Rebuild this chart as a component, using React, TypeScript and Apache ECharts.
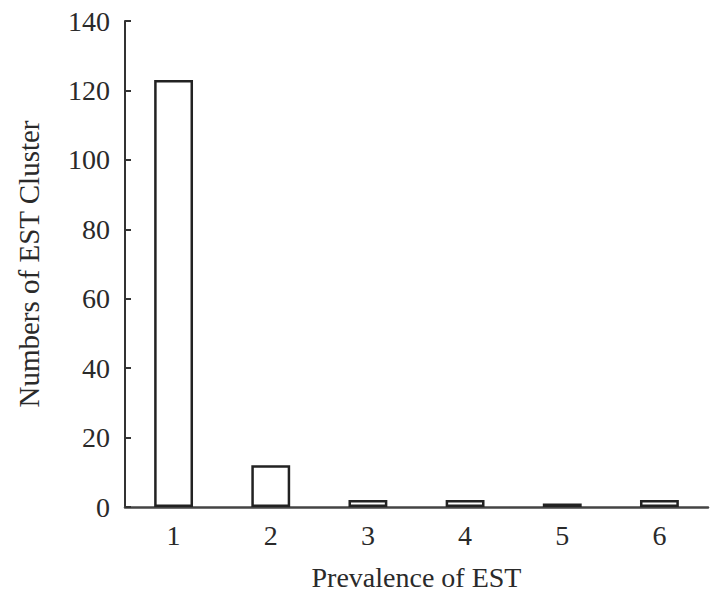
import React, { useEffect, useRef } from "react";
import * as echarts from "echarts";

const categories = ["1", "2", "3", "4", "5", "6"];
const clusterCounts = [123, 12, 2, 2, 1, 2];
const yTicks = { min: 0, max: 140, interval: 20 };

export default function App() {
  const ref = useRef<HTMLDivElement>(null);
  useEffect(() => {
    if (!ref.current) return;
    const chart = echarts.init(ref.current, undefined, { renderer: "svg" });
    const font = "'Times New Roman', 'Liberation Serif', Times, serif";
    const textColor = "#2a2a2a";
    chart.setOption({
      animation: false,
      backgroundColor: "#fff",
      grid: { left: 125, right: 11, top: 21, bottom: 84, containLabel: false },
      xAxis: {
        type: "category",
        data: categories,
        boundaryGap: true,
        name: "Prevalence of EST",
        nameLocation: "middle",
        nameGap: 56,
        nameTextStyle: { fontFamily: font, fontSize: 28, color: textColor },
        axisLine: { lineStyle: { color: "#444", width: 2.5 } },
        axisTick: { inside: true, length: 6, alignWithLabel: false, lineStyle: { color: "#444", width: 2 } },
        axisLabel: { fontFamily: font, fontSize: 28, color: textColor, margin: 14 },
        splitLine: { show: false },
      },
      yAxis: {
        type: "value",
        min: yTicks.min,
        max: yTicks.max,
        interval: yTicks.interval,
        name: "Numbers of EST Cluster",
        nameLocation: "middle",
        nameGap: 82,
        nameRotate: 90,
        nameTextStyle: { fontFamily: font, fontSize: 29, color: textColor },
        axisLine: { show: true, lineStyle: { color: "#333", width: 2 } },
        axisTick: { show: true, inside: true, length: 6, lineStyle: { color: "#333", width: 2 } },
        axisLabel: { fontFamily: font, fontSize: 28, color: textColor, margin: 15 },
        splitLine: { show: false },
      },
      series: [
        {
          type: "bar",
          data: clusterCounts,
          barWidth: "40%",
          itemStyle: { color: "#fff", borderColor: "#222", borderWidth: 2.5 },
        },
      ],
    });
    return () => chart.dispose();
  }, []);
  return <div ref={ref} style={{ width: 719, height: 596, margin: -8 }} />;
}
